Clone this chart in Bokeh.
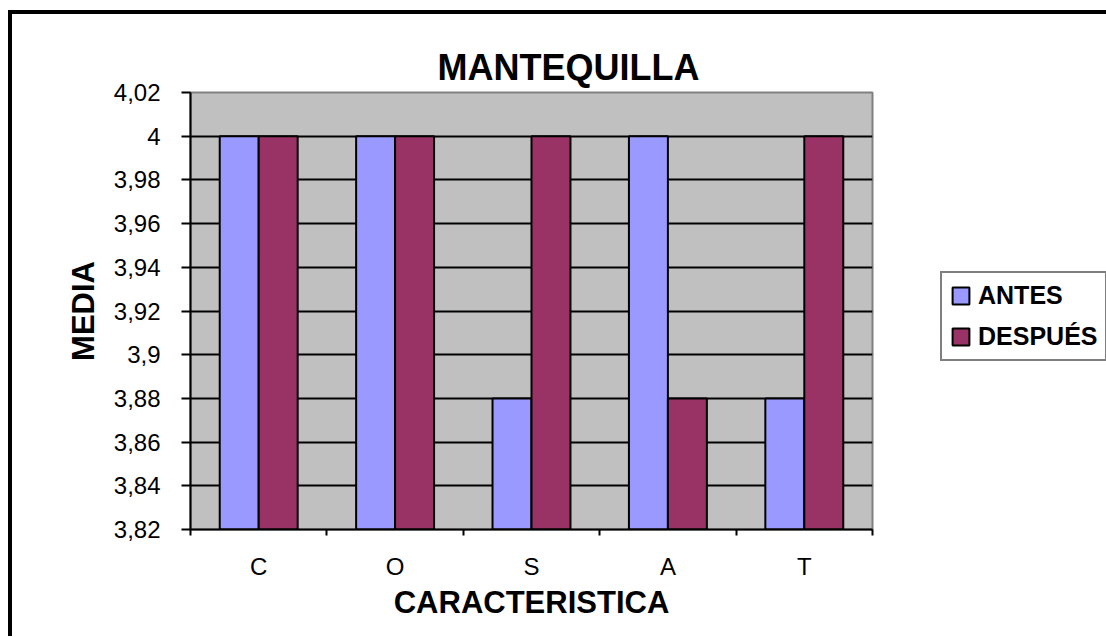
from bokeh.plotting import figure
from bokeh.models import (ColumnDataSource, Range1d, FixedTicker, Legend, LegendItem)
from bokeh.embed import file_html
from bokeh.resources import INLINE

# ---- data ----
CATEGORIES = ["C", "O", "S", "A", "T"]
ANTES = [4.0, 4.0, 3.88, 4.0, 3.88]
DESPUES = [4.0, 4.0, 4.0, 3.88, 4.0]
SERIES_NAMES = ["ANTES", "DESPUÉS"]
Y_TICKS = [3.82, 3.84, 3.86, 3.88, 3.90, 3.92, 3.94, 3.96, 3.98, 4.00, 4.02]
Y_TICK_LABELS = ["3,82", "3,84", "3,86", "3,88", "3,9", "3,92", "3,94",
                 "3,96", "3,98", "4", "4,02"]
Y_MIN, Y_MAX = 3.82, 4.02
TITLE = "MANTEQUILLA"
X_LABEL = "CARACTERISTICA"
Y_LABEL = "MEDIA"

FONT = "Liberation Sans"
C_ANTES = "#9999FF"
C_DESPUES = "#993366"

n = len(CATEGORIES)
centers = [i + 0.5 for i in range(n)]
bar_w = 1 / 3.5
src_a = ColumnDataSource(dict(x=[c - bar_w / 2 for c in centers], top=ANTES))
src_d = ColumnDataSource(dict(x=[c + bar_w / 2 for c in centers], top=DESPUES))

p = figure(frame_width=682, frame_height=437, output_backend="svg",
           toolbar_location=None,
           x_range=Range1d(0, n), y_range=Range1d(Y_MIN, Y_MAX),
           min_border_left=178, min_border_top=78, min_border_right=232,
           min_border_bottom=107)
p.styles = {"border-left": "4px solid black", "border-top": "4px solid black",
            "margin-left": "8px", "margin-top": "10px"}
p.background_fill_color = "#C0C0C0"
p.border_fill_color = "white"
p.outline_line_color = "#808080"
p.outline_line_width = 2

r_a = p.vbar(x="x", top="top", bottom=Y_MIN, width=bar_w, source=src_a,
             fill_color=C_ANTES, line_color="black", line_width=2)
r_d = p.vbar(x="x", top="top", bottom=Y_MIN, width=bar_w, source=src_d,
             fill_color=C_DESPUES, line_color="black", line_width=2)

# title
p.title.text = TITLE
p.title.align = "left"
p.title.offset = 247
p.title.text_font = FONT
p.title.text_font_size = "36px"
p.title.text_font_style = "bold"
p.title.text_color = "black"
p.title.standoff = 9

# grid
p.xgrid.visible = False
p.ygrid.ticker = FixedTicker(ticks=Y_TICKS[1:-1])
p.ygrid.grid_line_color = "black"
p.ygrid.grid_line_width = 2

# x axis
xa = p.xaxis[0]
xa.ticker = FixedTicker(ticks=centers, minor_ticks=list(range(n + 1)))
xa.major_label_overrides = {c: lab for c, lab in zip(centers, CATEGORIES)}
xa.major_tick_out = 0
xa.major_tick_in = 0
xa.minor_tick_out = 6
xa.minor_tick_in = 0
xa.minor_tick_line_color = "black"
xa.minor_tick_line_width = 2
xa.axis_line_color = "black"
xa.axis_line_width = 2
xa.major_label_text_font = FONT
xa.major_label_text_font_size = "24px"
xa.major_label_text_color = "black"
xa.major_label_standoff = 17
xa.axis_label = X_LABEL
xa.axis_label_text_font = FONT
xa.axis_label_text_font_size = "31px"
xa.axis_label_text_font_style = "bold"
xa.axis_label_text_color = "black"
xa.axis_label_standoff = 2

# y axis
ya = p.yaxis[0]
ya.ticker = FixedTicker(ticks=Y_TICKS)
ya.major_label_overrides = {t: lab for t, lab in zip(Y_TICKS, Y_TICK_LABELS)}
ya.major_tick_out = 9
ya.major_tick_in = 0
ya.minor_tick_out = 0
ya.minor_tick_in = 0
ya.major_tick_line_color = "black"
ya.major_tick_line_width = 2
ya.axis_line_color = "black"
ya.axis_line_width = 2
ya.major_label_text_font = FONT
ya.major_label_text_font_size = "24px"
ya.major_label_text_color = "black"
ya.major_label_standoff = 21
ya.axis_label = Y_LABEL
ya.axis_label_text_font = FONT
ya.axis_label_text_font_size = "31px"
ya.axis_label_text_font_style = "bold"
ya.axis_label_text_color = "black"
ya.axis_label_standoff = 10

legend = Legend(items=[LegendItem(label=SERIES_NAMES[0], renderers=[r_a]),
                       LegendItem(label=SERIES_NAMES[1], renderers=[r_d])],
                location=(68, 168), orientation="vertical",
                border_line_color="black", border_line_width=2,
                background_fill_color="white", background_fill_alpha=1,
                label_text_font=FONT, label_text_font_size="25px",
                label_text_font_style="bold", label_text_color="black",
                glyph_width=21, glyph_height=21, label_standoff=7,
                padding=8, spacing=12, margin=0)
p.add_layout(legend, "right")

open("out.html", "w").write(file_html(p, INLINE))
